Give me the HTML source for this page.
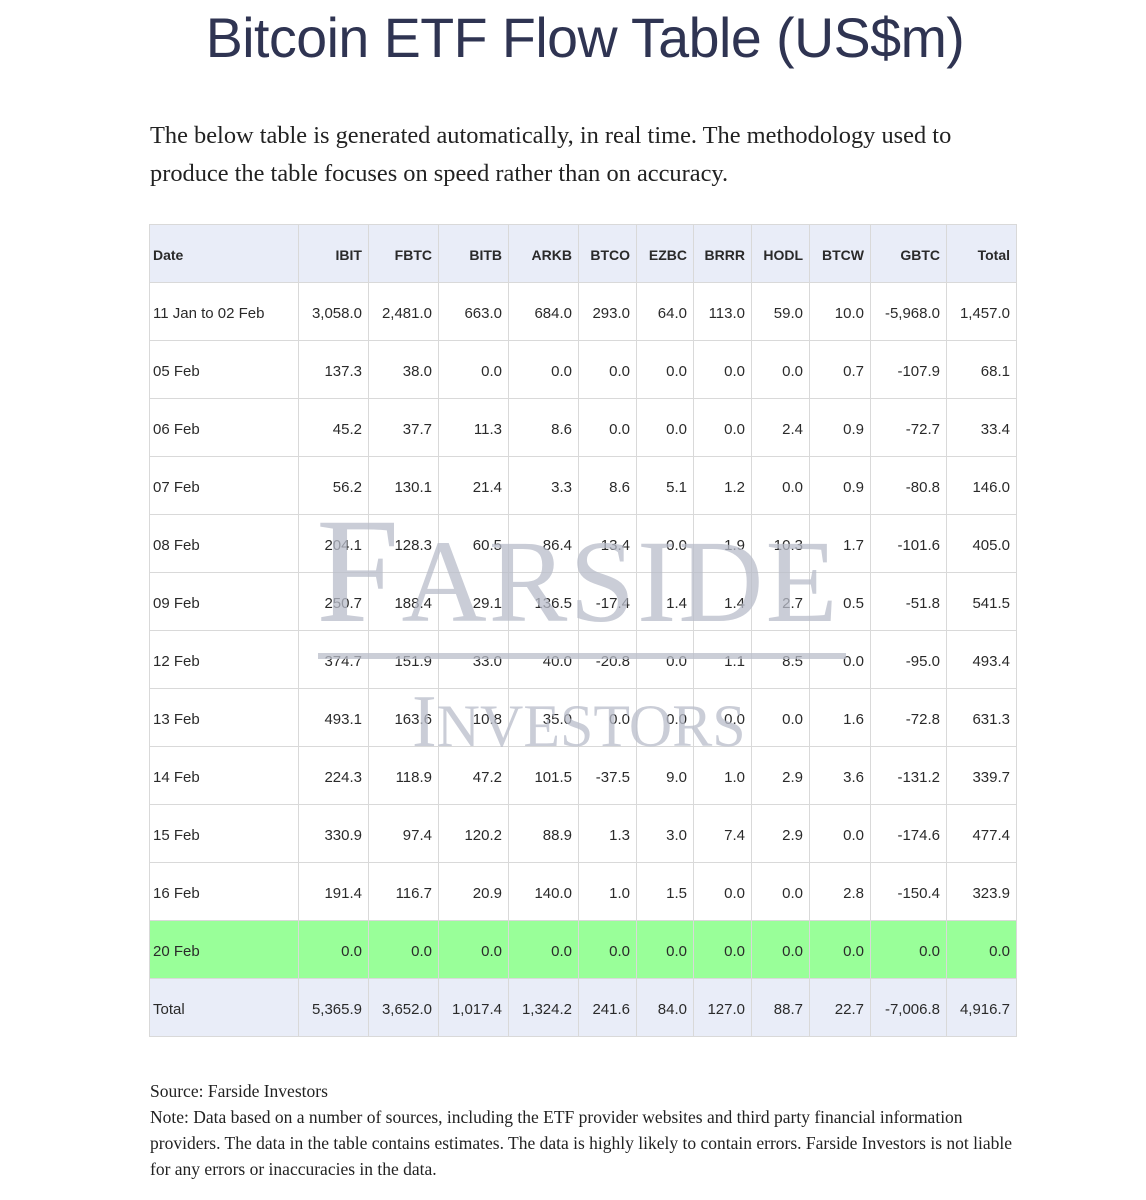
<!DOCTYPE html>
<html><head><meta charset="utf-8"><style>
body{margin:0;width:1146px;height:1200px;background:#fff;position:relative;overflow:hidden;font-family:"Liberation Sans",Arial,sans-serif}
h1{position:absolute;left:0;width:1170px;top:0px;margin:0;text-align:center;font-weight:normal;font-size:55.5px;line-height:76px;color:#2f3452;letter-spacing:-0.5px}
.intro{position:absolute;left:150px;top:117px;width:880px;margin:0;font-family:"Liberation Serif",serif;font-size:24.4px;line-height:38px;color:#222}
table{position:absolute;left:149px;top:224px;border-collapse:collapse;font-size:15px;color:#2a2a2a}
td,th{border:1px solid #d9d9d9;height:58px;padding:3px 6px 0 3px;text-align:right;box-sizing:border-box}
th{background:#e9edf8;font-size:14px;font-weight:bold}
td:first-child,th:first-child{text-align:left}
tr.total td{background:#e9edf8}
tr.green td{background:#99ff99}
.wm{position:absolute;font-family:"Liberation Serif",serif;color:#b9bdca;opacity:.75;pointer-events:none}
.foot{position:absolute;left:150px;top:1078px;width:875px;font-family:"Liberation Serif",serif;font-size:17.5px;line-height:26px;color:#222;margin:0}
</style></head><body>
<h1>Bitcoin ETF Flow Table (US$m)</h1>
<p class="intro">The below table is generated automatically, in real time. The methodology used to produce the table focuses on speed rather than on accuracy.</p>
<table id="t"></table>
<div class="wm" style="left:316px;top:496px;font-size:150px;line-height:150px;letter-spacing:2px">F<span style="font-size:118px">ARSIDE</span></div>
<div class="wm" style="left:318px;top:653px;width:528px;height:6px;background:#b9bdca"></div>
<div class="wm" style="left:412px;top:682px;font-size:74px;line-height:80px">I<span style="font-size:60px">NVESTORS</span></div>
<div class="foot">Source: Farside Investors<br>Note: Data based on a number of sources, including the ETF provider websites and third party financial information providers. The data in the table contains estimates. The data is highly likely to contain errors. Farside Investors is not liable for any errors or inaccuracies in the data.</div>
<script>
const columns=["Date","IBIT","FBTC","BITB","ARKB","BTCO","EZBC","BRRR","HODL","BTCW","GBTC","Total"];
const widths=[149,70,70,70,70,58,57,58,58,61,76,70];
const dates=["11 Jan to 02 Feb","05 Feb","06 Feb","07 Feb","08 Feb","09 Feb","12 Feb","13 Feb","14 Feb","15 Feb","16 Feb","20 Feb","Total"];
const values=[
["3,058.0","2,481.0","663.0","684.0","293.0","64.0","113.0","59.0","10.0","-5,968.0","1,457.0"],
["137.3","38.0","0.0","0.0","0.0","0.0","0.0","0.0","0.7","-107.9","68.1"],
["45.2","37.7","11.3","8.6","0.0","0.0","0.0","2.4","0.9","-72.7","33.4"],
["56.2","130.1","21.4","3.3","8.6","5.1","1.2","0.0","0.9","-80.8","146.0"],
["204.1","128.3","60.5","86.4","13.4","0.0","1.9","10.3","1.7","-101.6","405.0"],
["250.7","188.4","29.1","136.5","-17.4","1.4","1.4","2.7","0.5","-51.8","541.5"],
["374.7","151.9","33.0","40.0","-20.8","0.0","1.1","8.5","0.0","-95.0","493.4"],
["493.1","163.6","10.8","35.0","0.0","0.0","0.0","0.0","1.6","-72.8","631.3"],
["224.3","118.9","47.2","101.5","-37.5","9.0","1.0","2.9","3.6","-131.2","339.7"],
["330.9","97.4","120.2","88.9","1.3","3.0","7.4","2.9","0.0","-174.6","477.4"],
["191.4","116.7","20.9","140.0","1.0","1.5","0.0","0.0","2.8","-150.4","323.9"],
["0.0","0.0","0.0","0.0","0.0","0.0","0.0","0.0","0.0","0.0","0.0"],
["5,365.9","3,652.0","1,017.4","1,324.2","241.6","84.0","127.0","88.7","22.7","-7,006.8","4,916.7"]];
const t=document.getElementById('t');
const hr=document.createElement('tr');


columns.forEach((c,i)=>{const th=document.createElement('th');th.textContent=c;th.style.width=widths[i]+'px';


hr.appendChild(th);});
t.appendChild(hr);
dates.forEach((d,r)=>{const tr=document.createElement('tr');


if(d==="20 Feb")tr.className='green';if(d==="Total")tr.className='total';
const td0=document.createElement('td');td0.textContent=d;


tr.appendChild(td0);
values[r].forEach((v,c)=>{const td=document.createElement('td');td.textContent=v;


tr.appendChild(td);});
t.appendChild(tr);});
</script>
</body></html>
